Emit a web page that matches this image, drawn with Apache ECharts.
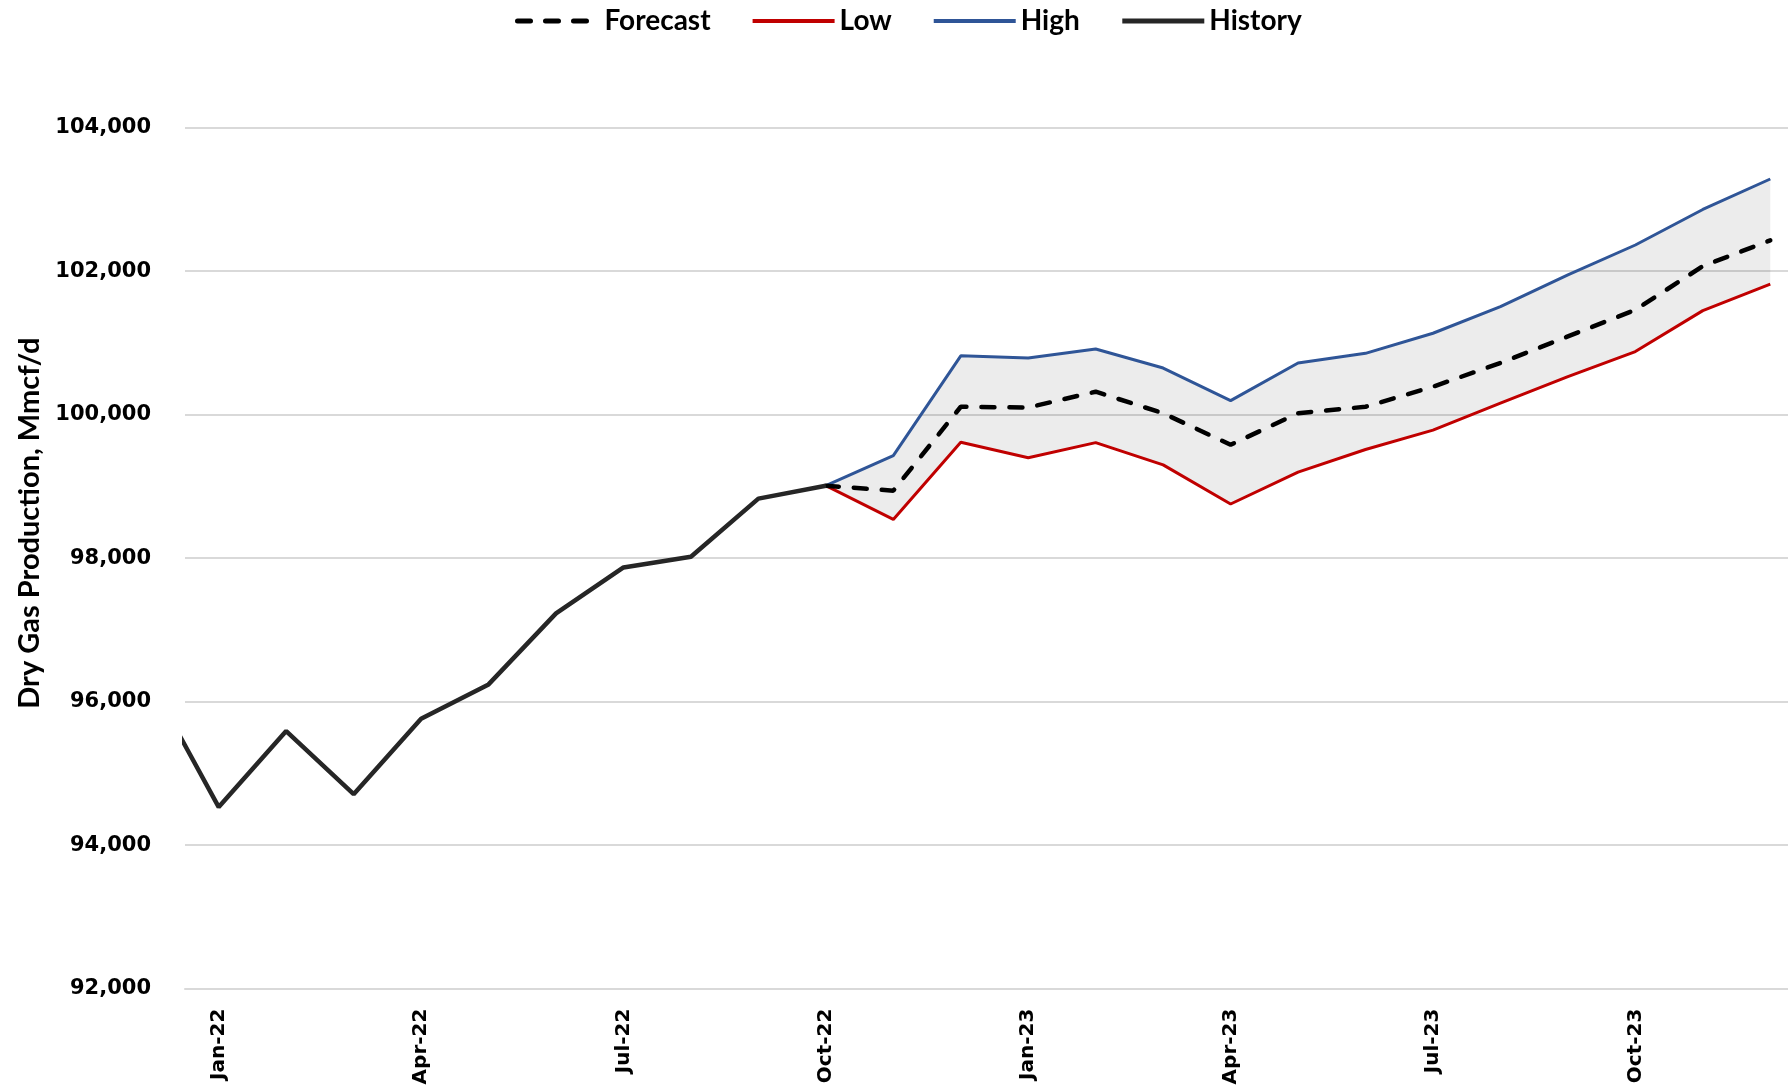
<!DOCTYPE html>
<html>
<head>
<meta charset="utf-8">
<title>Dry Gas Production</title>
<script src="https://cdn.jsdelivr.net/npm/echarts@6/dist/echarts.min.js"></script>
<style>
  html, body { margin: 0; padding: 0; background: #fff; }
  #echarts { width: 1788px; height: 1090px; }
</style>
</head>
<body>
<div id="echarts"></div>
<script>
// months from Dec-21 (left of the plot, clipped) to Dec-23
var months = ['Dec-21', 'Jan-22', 'Feb-22', 'Mar-22', 'Apr-22', 'May-22', 'Jun-22', 'Jul-22', 'Aug-22',
    'Sep-22', 'Oct-22', 'Nov-22', 'Dec-22', 'Jan-23', 'Feb-23', 'Mar-23', 'Apr-23', 'May-23', 'Jun-23',
    'Jul-23', 'Aug-23', 'Sep-23', 'Oct-23', 'Nov-23', 'Dec-23'];

// Dec-21 .. Oct-22  (note: "history" is taken by window.history)
var histValues = [96250, 94530, 95590, 94710, 95760, 96240, 97230, 97870, 98020, 98830, 99010];

// Oct-22 .. Dec-23
var forecast = [99010, 98940, 100110, 100100, 100320, 100020, 99580, 100020, 100110, 100390, 100720,
    101090, 101460, 102070, 102430];
var low = [99010, 98540, 99615, 99400, 99610, 99300, 98755, 99200, 99515, 99785, 100160, 100530,
    100880, 101450, 101820];
var high = [99010, 99430, 100820, 100790, 100915, 100650, 100195, 100720, 100855, 101135, 101505,
    101950, 102365, 102860, 103285];

var yTicks = [92000, 104000, 2000];   // min, max, step

var forecastStart = months.indexOf('Oct-22');

function pairs(values, start) {
    return values.map(function (v, i) { return [start + i, v]; });
}

var labelFont = 'DejaVu Sans, Verdana, sans-serif';
var textFont = 'Liberation Sans Narrow, Lato, sans-serif';

var myecharts = echarts.init(document.getElementById('echarts'));
var option = {
    animation: false,
    backgroundColor: '#fff',
    legend: {
        left: 510,
        top: 2,
        itemWidth: 82,
        itemHeight: 14,
        itemGap: 40,
        itemStyle: { opacity: 0 },   // hide the dot, keep the line
        data: [
            { name: 'Forecast', lineStyle: { width: 5 } },
            { name: 'Low', lineStyle: { width: 4 } },
            { name: 'High', lineStyle: { width: 4 } },
            { name: 'History', lineStyle: { width: 5 } }
        ],
        textStyle: { fontFamily: textFont, fontWeight: 'bold', fontSize: 28, color: '#000' }
    },
    grid: {
        // plot runs past the right edge of the picture (cropped Excel chart)
        left: 185,
        width: 1619,
        top: 127.7,
        bottom: 101.4,
        outerBoundsMode: 'none'
    },
    xAxis: [{
        type: 'category',
        data: months.slice(1),
        boundaryGap: true,
        axisLine: { lineStyle: { color: '#d9d9d9', width: 2 } },
        axisTick: { interval: 2, length: 12, lineStyle: { color: '#d9d9d9', width: 2 } },
        axisLabel: {
            interval: 2,
            rotate: 90,
            margin: 20,
            fontFamily: labelFont,
            fontWeight: 'bold',
            fontSize: 20,
            color: '#000'
        },
        splitLine: { show: false }
    }, {
        // hidden axis the lines are drawn on: Dec-21 = 0
        type: 'value',
        min: 0.5,
        max: months.length - 0.5,
        show: false
    }],
    yAxis: {
        type: 'value',
        min: yTicks[0],
        max: yTicks[1],
        interval: yTicks[2],
        name: 'Dry Gas Production, Mmcf/d',
        nameLocation: 'middle',
        nameGap: 140,
        nameTextStyle: {
            fontFamily: textFont, fontWeight: 'bold', fontSize: 29, color: '#000',
            padding: [0, 0, 0, 70]
        },
        axisLine: { show: false },
        axisTick: { show: false },
        axisLabel: {
            margin: 34,
            fontFamily: labelFont,
            fontWeight: 'bold',
            fontSize: 21,
            color: '#000',
            formatter: function (v) { return v.toLocaleString('en-US'); }
        },
        splitLine: { lineStyle: { color: '#d9d9d9', width: 2 } }
    },
    series: [{
        // grey band between low and high
        name: 'band',
        type: 'custom',
        xAxisIndex: 1,
        silent: true,
        z: 1,
        data: [[forecastStart, low[0]]],
        renderItem: function (params, api) {
            var pts = [];
            for (var i = 0; i < high.length; i++) {
                pts.push(api.coord([forecastStart + i, high[i]]));
            }
            for (var j = low.length - 1; j >= 0; j--) {
                pts.push(api.coord([forecastStart + j, low[j]]));
            }
            return {
                type: 'polygon',
                shape: { points: pts },
                style: { fill: 'rgba(0,0,0,0.075)', stroke: null }
            };
        }
    }, {
        name: 'Low',
        type: 'line',
        xAxisIndex: 1,
        symbol: 'none',
        color: '#c00000',
        lineStyle: { color: '#c00000', width: 3 },
        data: pairs(low, forecastStart)
    }, {
        name: 'High',
        type: 'line',
        xAxisIndex: 1,
        symbol: 'none',
        color: '#2f5597',
        lineStyle: { color: '#2f5597', width: 3 },
        data: pairs(high, forecastStart)
    }, {
        name: 'Forecast',
        type: 'line',
        xAxisIndex: 1,
        symbol: 'none',
        color: '#000',
        lineStyle: { color: '#000', width: 4.5, type: [13, 15], cap: 'round' },
        data: pairs(forecast, forecastStart)
    }, {
        name: 'History',
        type: 'line',
        xAxisIndex: 1,
        symbol: 'none',
        color: '#262626',
        lineStyle: { color: '#262626', width: 4.5 },
        data: pairs(histValues, 0)
    }]
};
myecharts.setOption(option);
</script>
</body>
</html>
